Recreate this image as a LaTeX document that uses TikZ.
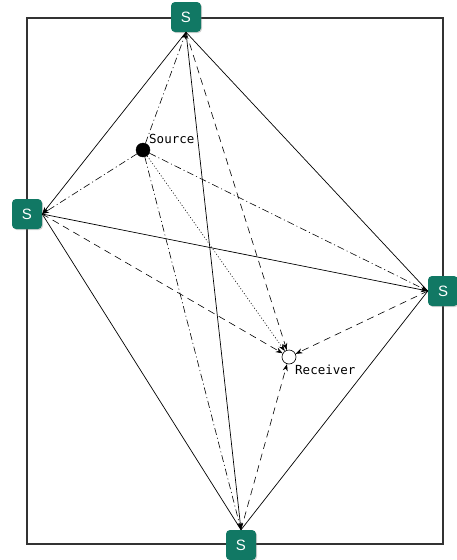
\documentclass[tikz,border=0pt]{standalone}
\usepackage{fontspec}
\setsansfont{Liberation Sans}
\newfontfamily\labelmono{DejaVu Sans Mono}
\usetikzlibrary{arrows.meta,shadows}
\definecolor{steal}{HTML}{117864}
\definecolor{frame}{HTML}{333333}
\tikzset{
  snode/.style={rectangle, rounded corners=4pt, fill=steal, minimum width=30pt, minimum height=30pt, inner sep=0pt,
    text=white, font=\sffamily\fontsize{15}{15}\selectfont, drop shadow={shadow xshift=1pt, shadow yshift=-1pt, opacity=0.35}},
  srcnode/.style={circle, fill=black, draw=black, minimum size=14pt, inner sep=0pt},
  rcvnode/.style={circle, fill=white, draw=black, line width=0.6pt, minimum size=14pt, inner sep=0pt},
  lbl/.style={font=\labelmono\fontsize{12.5}{12.5}\selectfont, inner sep=0pt},
  tip/.style={-{Stealth[length=7pt,width=5pt]}},
  solidline/.style={tip, line width=0.7pt},
  dashdotline/.style={tip, line width=0.6pt, dash pattern=on 7pt off 3pt on 1pt off 3pt},
  dashedline/.style={tip, line width=0.6pt, dash pattern=on 7pt off 5pt},
  dottedline/.style={tip, line width=0.6pt, dash pattern=on 1pt off 2pt},
}
\begin{document}
\begin{tikzpicture}[x=1pt,y=-1pt]
\useasboundingbox (0,0) rectangle (456,560);
\draw[frame, line width=1.5pt] (27,18) rectangle (443,544);
\node[snode] (top) at (186,17) {S};
\node[snode] (left) at (27,214) {S};
\node[snode] (right) at (443,291) {S};
\node[snode] (bot) at (241,545) {S};
\node[srcnode] (src) at (143,150) {};
\node[rcvnode] (rcv) at (289,357) {};
\node[lbl, anchor=west] (srclbl) at (149,139) {Source};
\node[lbl, anchor=west] (rcvlbl) at (295,370) {Receiver};
% solid links between stations
\draw[solidline] (top.south) -- (left.east);
\draw[line width=0.7pt] (top.south) -- (right.west);
\draw[solidline] (top.south) -- (bot.north);
\draw[solidline] (left.east) -- (right.west);
\draw[line width=0.7pt] (left.east) -- (bot.north);
\draw[line width=0.7pt] (right.west) -- (bot.north);
% source to stations
\draw[dashdotline] (src) -- (top.south);
\draw[dashdotline] (src) -- (left.east);
\draw[dashdotline] (src) -- (right.west);
\draw[dashdotline] (src) -- (bot.north);
% stations to receiver
\draw[dashedline] (top.south) -- (rcv);
\draw[dashedline] (left.east) -- (rcv);
\draw[dashedline] (right.west) -- (rcv);
\draw[dashedline] (bot.north) -- (rcv);
\draw[dottedline] (src) -- (rcv);
\end{tikzpicture}
\end{document}
